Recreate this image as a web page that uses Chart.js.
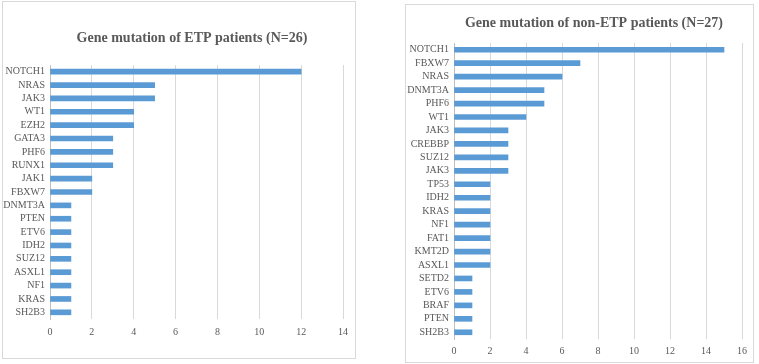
<!DOCTYPE html>
<html>
<head>
<meta charset="utf-8">
<script src="https://cdn.jsdelivr.net/npm/chart.js@4"></script>
<style>
    body { margin: 0; background: #fff; width: 759px; height: 364px; position: relative; overflow: hidden; }
    .panel { position: absolute; border: 1px solid #d9d9d9; background: #fff; }
    .panel canvas { position: absolute; left: 0; top: 0; }
</style>
</head>
<body>
<div class="panel" style="left:2px; top:1px; width:352px; height:356px;">
    <canvas id="chartEtp" width="352" height="356"></canvas>
</div>
<div class="panel" style="left:405px; top:4px; width:347px; height:357px;">
    <canvas id="chartNonEtp" width="347" height="357"></canvas>
</div>
<script>
// ETP patients (N=26)
const etpGenes = ['NOTCH1', 'NRAS', 'JAK3', 'WT1', 'EZH2', 'GATA3', 'PHF6', 'RUNX1', 'JAK1', 'FBXW7',
    'DNMT3A', 'PTEN', 'ETV6', 'IDH2', 'SUZ12', 'ASXL1', 'NF1', 'KRAS', 'SH2B3'];
const etpCounts = [12, 5, 5, 4, 4, 3, 3, 3, 2, 2, 1, 1, 1, 1, 1, 1, 1, 1, 1];
const etpTitle = 'Gene mutation of ETP patients (N=26)';
const etpMax = 14;

// non-ETP patients (N=27)
const nonEtpGenes = ['NOTCH1', 'FBXW7', 'NRAS', 'DNMT3A', 'PHF6', 'WT1', 'JAK3', 'CREBBP', 'SUZ12', 'JAK3',
    'TP53', 'IDH2', 'KRAS', 'NF1', 'FAT1', 'KMT2D', 'ASXL1', 'SETD2', 'ETV6', 'BRAF', 'PTEN', 'SH2B3'];
const nonEtpCounts = [15, 7, 6, 5, 5, 4, 3, 3, 3, 3, 2, 2, 2, 2, 2, 2, 2, 1, 1, 1, 1, 1];
const nonEtpTitle = 'Gene mutation of non-ETP patients (N=27)';
const nonEtpMax = 16;

const serif = '"Liberation Serif", "Times New Roman", serif';
const textGrey = '#595959';

// title drawn at a fixed spot, like the Excel chart title
const chartTitle = {
    id: 'chartTitle',
    afterDraw: function(chart, args, opts){
        const ctx = chart.ctx;
        ctx.save();
        ctx.font = 'bold 14px ' + serif;
        ctx.fillStyle = textGrey;
        ctx.textAlign = 'center';
        ctx.textBaseline = 'middle';
        ctx.fillText(opts.text, opts.x, opts.y);
        ctx.restore();
    }
};

function makeChart(id, labels, values, title, xMax, cfg){
    return new Chart(document.getElementById(id), {
        type: 'bar',
        data: {
            labels: labels,
            datasets: [{
                data: values,
                backgroundColor: '#5b9bd5',
                barThickness: 5
            }]
        },
        plugins: [chartTitle],
        options: {
            indexAxis: 'y',
            responsive: false,
            animation: false,
            layout: {padding: {left: 0, right: cfg.padRight, top: cfg.padTop, bottom: 0}},
            plugins: {
                legend: {display: false},
                tooltip: {enabled: false},
                title: {display: false},
                chartTitle: {text: title, x: cfg.titleX, y: cfg.titleY}
            },
            scales: {
                x: {
                    min: 0,
                    max: xMax,
                    ticks: {stepSize: 2, color: textGrey, font: {family: serif, size: 10}, padding: cfg.xPad},
                    grid: {color: '#d9d9d9', drawTicks: false},
                    border: {display: false},
                    afterFit: function(scale){ scale.height = cfg.xHeight; }
                },
                y: {
                    ticks: {color: textGrey, font: {family: serif, size: 10}, padding: 5, autoSkip: false},
                    grid: {display: false, drawTicks: false},
                    border: {display: true, color: '#bfbfbf'},
                    afterFit: function(scale){ scale.width = cfg.yWidth; }
                }
            }
        }
    });
}

makeChart('chartEtp', etpGenes, etpCounts, etpTitle, etpMax, {
    padRight: 11, padTop: 63, xPad: 7, xHeight: 39, yWidth: 47, titleX: 189, titleY: 36
});
makeChart('chartNonEtp', nonEtpGenes, nonEtpCounts, nonEtpTitle, nonEtpMax, {
    padRight: 5, padTop: 38, xPad: 6, xHeight: 23, yWidth: 48, titleX: 188, titleY: 18
});
</script>
</body>
</html>
